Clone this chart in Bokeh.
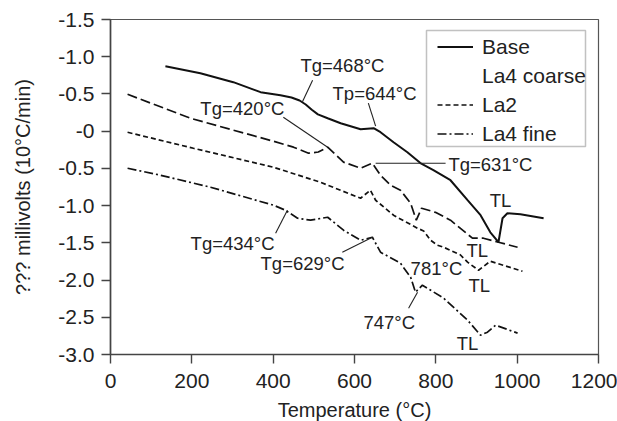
from bokeh.plotting import figure
from bokeh.models import ColumnDataSource, Legend, LegendItem, FixedTicker, BoxAnnotation
from bokeh.core.properties import value
from bokeh.embed import file_html
from bokeh.resources import INLINE

FONT = "Liberation Sans"

# DTA traces: temperature (°C) vs signal
base_t = [135, 221, 302, 369, 418, 445, 465, 480, 495, 510, 534, 566, 615, 647,
          664, 696, 730, 762, 794, 836, 878, 910, 934, 954, 964, 976, 1008, 1065]
base_v = [0.873, 0.779, 0.658, 0.524, 0.483, 0.452, 0.412, 0.358, 0.288, 0.226,
          0.174, 0.107, 0.026, 0.040, -0.014, -0.148, -0.283, -0.429, -0.524,
          -0.659, -0.927, -1.129, -1.358, -1.492, -1.170, -1.102, -1.116, -1.170]

coarse_t = [42, 197, 401, 450, 487, 511, 534, 573, 615, 644, 664, 689, 713, 738,
            752, 765, 799, 836, 890, 917, 954, 1001]
coarse_v = [0.495, 0.173, -0.136, -0.215, -0.296, -0.280, -0.215, -0.416, -0.497,
            -0.430, -0.592, -0.726, -0.793, -0.968, -1.196, -1.035, -1.090, -1.196,
            -1.438, -1.438, -1.492, -1.559]

la2_t = [42, 204, 401, 516, 615, 639, 652, 696, 755, 770, 787, 804, 819, 860,
         878, 905, 934, 1013]
la2_v = [-0.015, -0.230, -0.485, -0.686, -0.901, -0.793, -0.928, -1.129, -1.304,
         -1.340, -1.465, -1.532, -1.559, -1.660, -1.760, -1.868, -1.747, -1.881]

fine_t = [42, 123, 246, 401, 430, 460, 492, 534, 573, 615, 644, 664, 713, 738,
          750, 767, 819, 878, 910, 927, 947, 1001]
fine_v = [-0.498, -0.592, -0.753, -0.995, -1.062, -1.170, -1.196, -1.156, -1.330,
          -1.465, -1.425, -1.626, -1.774, -1.962, -2.163, -2.069, -2.243, -2.539,
          -2.741, -2.700, -2.606, -2.713]

# axis ticks and their printed labels
x_ticks = [0, 200, 400, 600, 800, 1000, 1200]
y_ticks = [1.5, 1.0, 0.5, 0.0, -0.5, -1.0, -1.5, -2.0, -2.5, -3.0]
y_tick_labels = ["-1.5", "-1.0", "-0.5", "-0", "-0.5", "-1.0", "-1.5", "-2.0",
                 "-2.5", "-3.0"]

# annotations (left aligned)
note_text = ["Tg=468°C", "Tp=644°C", "Tg=420°C", "Tg=631°C", "Tg=434°C",
             "Tg=629°C", "781°C", "747°C"]
note_x = [467, 546, 221, 831, 197, 369, 738, 622]
note_y = [0.886, 0.51, 0.307, -0.444, -1.505, -1.774, -1.841, -2.566]

# liquidus markers (centred)
tl_text = ["TL", "TL", "TL", "TL"]
tl_x = [959, 902, 907, 878]
tl_y = [-0.927, -1.599, -2.069, -2.848]

# leader lines from annotation to trace
lead_x0 = [497, 634, 425, 652, 406, 570, 733]
lead_y0 = [0.685, 0.376, 0.186, -0.430, -1.371, -1.626, -2.378]
lead_x1 = [472, 652, 534, 824, 435, 644, 755]
lead_y1 = [0.395, 0.067, -0.217, -0.430, -1.062, -1.425, -2.163]

p = figure(frame_width=488, frame_height=335, x_range=(0, 1200), y_range=(-3, 1.5),
           output_backend="svg", toolbar_location=None,
           min_border_left=110, min_border_right=19, min_border_top=19,
           min_border_bottom=67)
p.background_fill_color = "white"
p.border_fill_color = "white"
p.outline_line_color = "#555555"
p.outline_line_width = 1.2
p.xgrid.visible = False
p.ygrid.visible = False

for ax in (p.xaxis[0], p.yaxis[0]):
    ax.axis_line_color = "#444444"
    ax.axis_line_width = 1.6
    ax.major_tick_line_color = "#444444"
    ax.major_tick_line_width = 1.4
    ax.major_tick_out = 9
    ax.major_tick_in = 0
    ax.minor_tick_line_color = None
    ax.major_label_text_font = FONT
    ax.major_label_text_font_size = "21px"
    ax.major_label_text_color = "#222222"
    ax.axis_label_text_font = FONT
    ax.axis_label_text_font_size = "20px"
    ax.axis_label_text_font_style = "normal"
    ax.axis_label_text_color = "#222222"

p.xaxis.ticker = FixedTicker(ticks=x_ticks)
p.yaxis.ticker = FixedTicker(ticks=y_ticks)
p.yaxis.major_label_overrides = {t: s for t, s in zip(y_ticks, y_tick_labels)}
p.xaxis.major_label_standoff = 10
p.yaxis.major_label_standoff = 7
p.xaxis.axis_label = "Temperature (°C)"
p.yaxis.axis_label = "??? millivolts (10°C/min)"
p.xaxis.axis_label_standoff = 8
p.yaxis.axis_label_standoff = 21

r_base = p.line(base_t, base_v, line_color="#111111", line_width=2.0)
r_coarse = p.line(coarse_t, coarse_v, line_color="#111111", line_width=1.7,
                  line_dash="10 4")
r_la2 = p.line(la2_t, la2_v, line_color="#111111", line_width=1.7, line_dash="5 3")
r_fine = p.line(fine_t, fine_v, line_color="#111111", line_width=1.7,
                line_dash="9 3 2 3")
ghost = p.line([], [], line_alpha=0)

p.segment(x0=lead_x0, y0=lead_y0, x1=lead_x1, y1=lead_y1, line_color="#222222",
          line_width=1.1)

notes = ColumnDataSource(dict(x=note_x, y=note_y, text=note_text))
p.text(x="x", y="y", text="text", source=notes, text_font=value(FONT),
       text_font_size="18.5px", text_color="#222222", text_align="left",
       text_baseline="middle")
tls = ColumnDataSource(dict(x=tl_x, y=tl_y, text=tl_text))
p.text(x="x", y="y", text="text", source=tls, text_font=value(FONT),
       text_font_size="18.5px", text_color="#222222", text_align="center",
       text_baseline="middle")

# legend frame, drawn separately so the long label can run past its edge
legend_box = BoxAnnotation(left=316, right=475, top=324, bottom=208,
                           left_units="screen", right_units="screen",
                           top_units="screen", bottom_units="screen",
                           fill_color="white", fill_alpha=1.0,
                           line_color="#333333", line_width=1.5)
p.add_layout(legend_box)

legend = Legend(items=[LegendItem(label="Base", renderers=[r_base]),
                       LegendItem(label="La4 coarse", renderers=[ghost]),
                       LegendItem(label="La2", renderers=[r_la2]),
                       LegendItem(label="La4 fine", renderers=[r_fine])],
                location=(327, 208), margin=0, padding=5, spacing=4,
                glyph_width=36, glyph_height=25, label_height=25,
                label_standoff=9, label_text_font=FONT,
                label_text_font_size="21px", label_text_color="#222222",
                border_line_color=None, background_fill_alpha=0.0)
p.add_layout(legend)

open("out.html", "w").write(file_html(p, INLINE))
